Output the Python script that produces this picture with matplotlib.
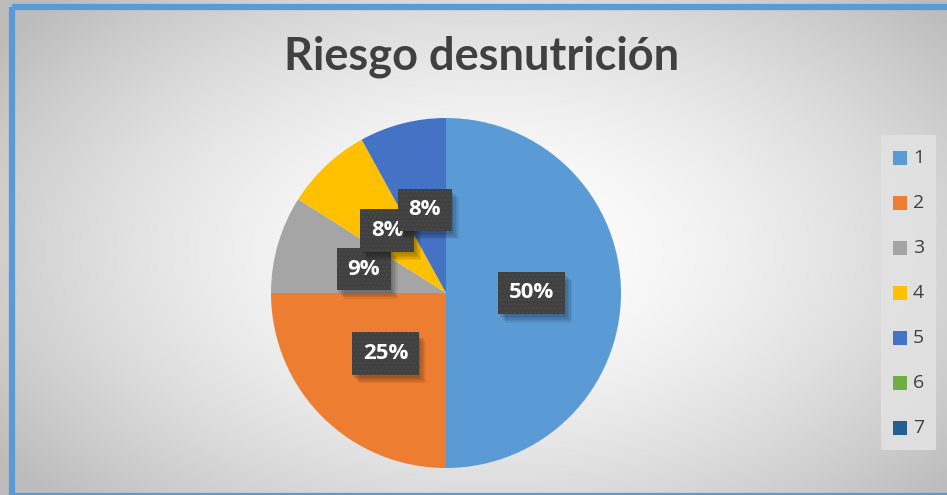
import numpy as np
import matplotlib
matplotlib.use('Agg')
from matplotlib import pyplot as plt
from matplotlib import patheffects as pe
from matplotlib.patches import Rectangle

categories = ['1', '2', '3', '4', '5', '6', '7']
values = [50, 25, 9, 8, 8, 0, 0]
colors = ['#5B9BD5', '#ED7D31', '#A5A5A5', '#FFC000', '#4472C4', '#70AD47', '#255E91']
title = 'Riesgo desnutrición'

W, H = 947, 495
fig = plt.figure(figsize=(W / 100, H / 100), dpi=100)

# background: soft radial gradient, light in the middle
bg = fig.add_axes([0, 0, 1, 1])
yy, xx = np.mgrid[0:H, 0:W]
d = np.sqrt(((xx - 490) / 600.0) ** 2 + ((yy - 250) / 360.0) ** 2)
shade = 1.0 - 0.26 * np.clip(d, 0, 1) ** 1.6
bg.imshow(np.dstack([shade] * 3), extent=[0, W, H, 0], aspect='auto')
bg.set_xlim(0, W)
bg.set_ylim(H, 0)
bg.axis('off')
bg.add_patch(Rectangle((12, 7), W + 20, H - 7 + 0.5, fill=False,
                       edgecolor='#5B9BD5', linewidth=4.5))

# pie
cx, cy, r = 446, 293, 175
ax = fig.add_axes([(cx - r) / W, 1 - (cy + r) / H, 2 * r / W, 2 * r / H])
wedges, _ = ax.pie(values, colors=colors, startangle=90, counterclock=False,
                   wedgeprops=dict(linewidth=0))
ax.set_xlim(-1, 1)
ax.set_ylim(-1, 1)
ax.set_aspect('auto')

# soft shadow for the label boxes (drawn by a hidden copy of each label)
shadow = [pe.SimplePatchShadow(offset=(1 + k, -2 - k), alpha=0.07, shadow_rgbFace='black')
          for k in range(5)]
box = dict(boxstyle='square,pad=0.48', facecolor='#404040', linewidth=0)

total = sum(values)
for w, v in zip(wedges, values):
    if v == 0:
        continue
    ang = np.deg2rad((w.theta1 + w.theta2) / 2)
    x, y = 0.49 * np.cos(ang), 0.49 * np.sin(ang)
    s = f'{round(100 * v / total)}%'
    kw = dict(ha='center', va='center', fontsize=16, fontweight='bold', family='Open Sans')
    sh = ax.text(x, y, s, color=(1, 1, 1, 0), bbox=dict(box, edgecolor='none'), **kw)
    sh.get_bbox_patch().set_path_effects(shadow)
    ax.text(x, y, s, color='white',
            bbox=dict(box, edgecolor='#4a4a4a', hatch='....'), **kw)

fig.text(482 / W, 1 - 57 / H, title, ha='center', va='center', fontsize=32.5,
         fontweight='bold', family='Lato', color='#404040')

# legend
lx0, ly0, lx1, ly1 = 881, 135, 936, 450
bg.add_patch(Rectangle((lx0, ly0), lx1 - lx0, ly1 - ly0, facecolor='#e2e2e2',
                       edgecolor='none', alpha=0.9))
for i, (c, lab) in enumerate(zip(colors, categories)):
    y = 158 + i * 45
    bg.add_patch(Rectangle((893, y - 7), 14, 14, facecolor=c, edgecolor='none'))
    bg.text(913, y, lab, ha='left', va='center', fontsize=14, color='#404040',
            family='Open Sans')

fig.savefig('out.png', dpi=100)
